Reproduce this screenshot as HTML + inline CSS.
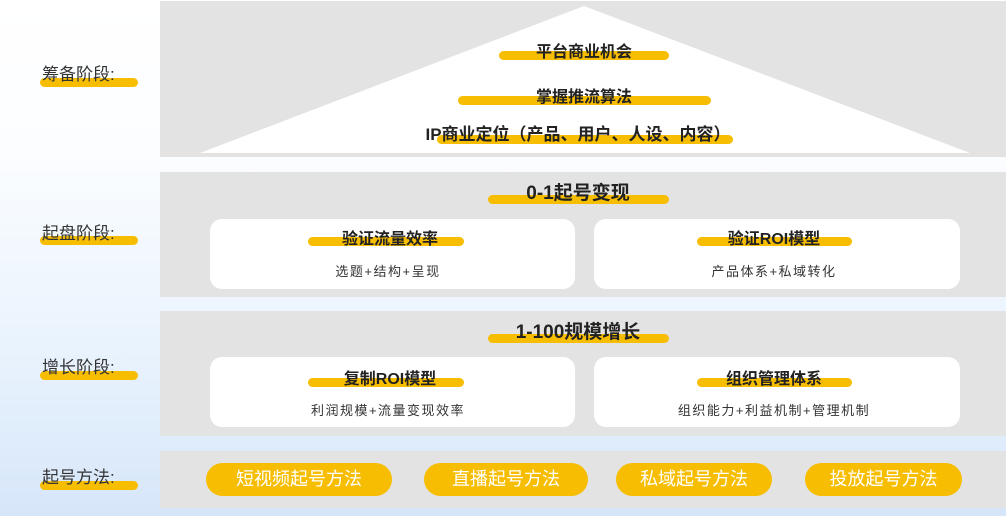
<!DOCTYPE html>
<html><head><meta charset="utf-8"><style>
*{margin:0;padding:0;box-sizing:border-box}
body{width:1006px;height:516px;overflow:hidden;position:relative;background:linear-gradient(180deg,#ffffff 0%,#fbfdff 30%,#e8f2fd 70%,#d6e6f9 100%);font-family:"Liberation Sans","Noto Sans CJK SC",sans-serif;color:#222}
.a{position:absolute}
.panel{position:absolute;left:160px;right:0;background:#e3e3e3}
.bar{position:absolute;background:#f7bd00;border-radius:5px;height:9px}
.t{position:absolute;white-space:nowrap;font-weight:bold;text-align:center;transform:translateX(-50%)}
.lab{position:absolute;left:42px;font-size:17px;color:#333}
.card{position:absolute;background:#fff;border-radius:12px}
.sub{position:absolute;font-size:13px;color:#333;letter-spacing:1.5px;white-space:nowrap;transform:translateX(-50%)}
.pill{position:absolute;top:463px;height:33px;background:#f7bd00;border-radius:17px;color:#fff;font-size:18px;text-align:center;line-height:33px}
</style></head><body>
<div class="bar" style="left:40px;top:78px;width:98px"></div><div class="lab" style="top:60px">筹备阶段:</div>
<div class="bar" style="left:40px;top:236px;width:98px"></div><div class="lab" style="top:219px">起盘阶段:</div>
<div class="bar" style="left:40px;top:371px;width:98px"></div><div class="lab" style="top:353px">增长阶段:</div>
<div class="bar" style="left:40px;top:481px;width:98px"></div><div class="lab" style="top:463px">起号方法:</div>

<div class="panel" style="top:1px;height:156px"></div>
<svg class="a" style="left:0;top:0" width="1006" height="160"><polygon points="584,6 200,153 970,153" fill="#fff"/></svg>
<div class="bar" style="left:499px;top:51px;width:170px"></div><div class="t" style="left:584px;top:38px;font-size:16px">平台商业机会</div>
<div class="bar" style="left:458px;top:96px;width:253px"></div><div class="t" style="left:584px;top:83px;font-size:16px">掌握推流算法</div>
<div class="bar" style="left:437px;top:135px;width:296px"></div><div class="t" style="left:578px;top:120px;font-size:17px">IP商业定位（产品、用户、人设、内容）</div>

<div class="panel" style="top:172px;height:125px"></div>
<div class="bar" style="left:488px;top:195px;width:181px"></div><div class="t" style="left:578px;top:178px;font-size:19px">0-1起号变现</div>
<div class="card" style="left:210px;top:219px;width:365px;height:70px"></div>
<div class="card" style="left:594px;top:219px;width:366px;height:70px"></div>
<div class="bar" style="left:308px;top:237px;width:156px"></div><div class="t" style="left:390px;top:225px;font-size:16px">验证流量效率</div>
<div class="sub" style="left:388px;top:261px">选题+结构+呈现</div>
<div class="bar" style="left:697px;top:237px;width:155px"></div><div class="t" style="left:774px;top:225px;font-size:16px">验证ROI模型</div>
<div class="sub" style="left:774px;top:261px">产品体系+私域转化</div>

<div class="panel" style="top:311px;height:125px"></div>
<div class="bar" style="left:488px;top:334px;width:181px"></div><div class="t" style="left:578px;top:317px;font-size:19px">1-100规模增长</div>
<div class="card" style="left:210px;top:357px;width:365px;height:70px"></div>
<div class="card" style="left:594px;top:357px;width:366px;height:70px"></div>
<div class="bar" style="left:308px;top:378px;width:156px"></div><div class="t" style="left:390px;top:365px;font-size:16px">复制ROI模型</div>
<div class="sub" style="left:388px;top:400px">利润规模+流量变现效率</div>
<div class="bar" style="left:697px;top:378px;width:155px"></div><div class="t" style="left:774px;top:365px;font-size:16px">组织管理体系</div>
<div class="sub" style="left:774px;top:400px">组织能力+利益机制+管理机制</div>

<div class="panel" style="top:451px;height:57px"></div>
<div class="pill" style="left:206px;width:186px">短视频起号方法</div>
<div class="pill" style="left:424px;width:164px">直播起号方法</div>
<div class="pill" style="left:616px;width:156px">私域起号方法</div>
<div class="pill" style="left:805px;width:157px">投放起号方法</div>
</body></html>
